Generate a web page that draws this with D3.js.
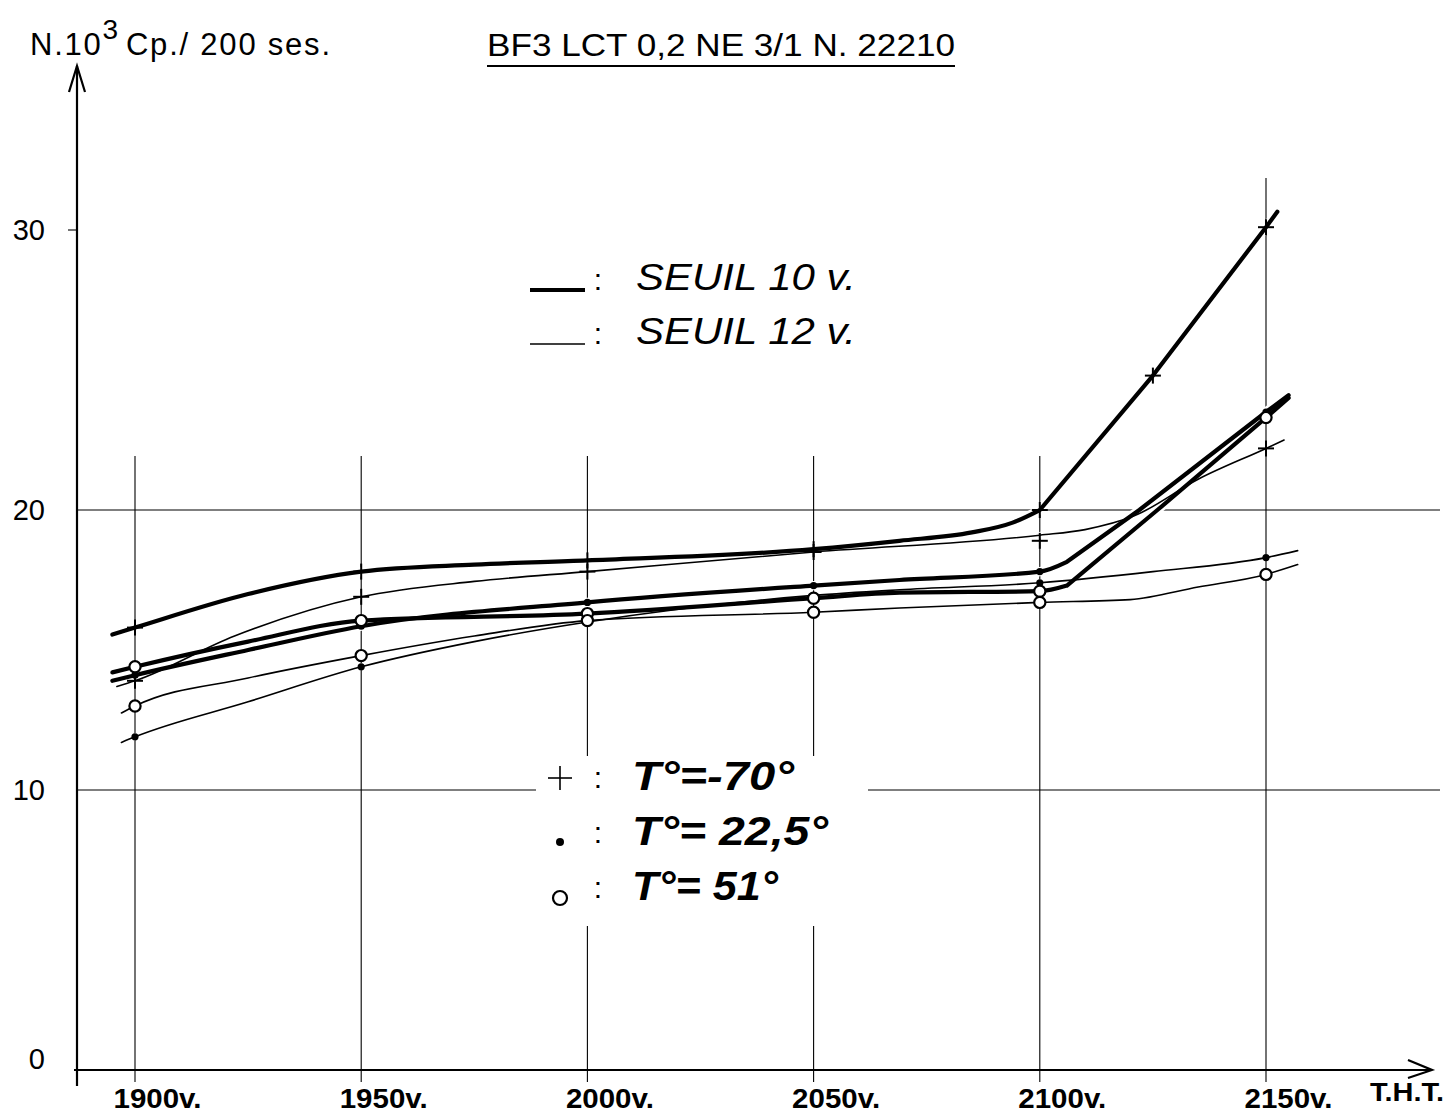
<!DOCTYPE html>
<html>
<head>
<meta charset="utf-8">
<script src="https://cdn.jsdelivr.net/npm/d3@7"></script>
<style>
  html, body { margin: 0; padding: 0; background: #fff; }
  svg { display: block; }
  text { font-family: "Liberation Sans", Arial, sans-serif; fill: #000; }
</style>
</head>
<body>
<svg id="chart" width="1452" height="1113"></svg>
<script>
// Supply voltages (T.H.T.) and count-rate scale (N x 10^3 counts / 200 s)
const volts = [1900, 1950, 2000, 2050, 2100, 2150];
const yTicks = [0, 10, 20, 30];
const gridY = [10, 20];

// Measured points: [voltage, counts x 10^3]
// T = -70°, threshold 10 V
const m70_s10_pts = [[1900, 15.8], [1950, 17.8], [2000, 18.2], [2050, 18.6], [2100, 20.0], [2125, 24.8], [2150, 30.1]];
const m70_s10_line = [[1895, 15.55], [1900, 15.8], [1925, 17.0], [1950, 17.8], [1975, 18.05], [2000, 18.2], [2050, 18.6],
  [2069, 18.9], [2085, 19.2], [2094, 19.55], [2100, 20.0], [2125, 24.8], [2150, 30.1], [2152.5, 30.65]];
// T = -70°, threshold 12 V
const m70_s12_pts = [[1900, 13.9], [1950, 16.9], [2000, 17.8], [2050, 18.5], [2100, 18.9], [2150, 22.2]];
const m70_s12_line = [[1896, 13.7], [1900, 13.9], [1922, 15.5], [1950, 16.9], [1975, 17.45], [2000, 17.8], [2050, 18.5],
  [2100, 19.1], [2110, 19.3], [2121, 19.8], [2135, 21.1], [2150, 22.2], [2154, 22.5]];
// T = 22.5°, threshold 10 V
const t22_s10_pts = [[1900, 14.1], [1950, 15.85], [2000, 16.7], [2050, 17.3], [2100, 17.8], [2150, 23.5]];
const t22_s10_line = [[1895, 13.9], [1900, 14.1], [1925, 15.0], [1950, 15.85], [2000, 16.7], [2050, 17.3], [2069, 17.5],
  [2100, 17.8], [2106, 18.15], [2122, 20.0], [2150, 23.5], [2155, 24.1]];
// T = 22.5°, threshold 12 V
const t22_s12_pts = [[1900, 11.9], [1950, 14.4], [2000, 16.0], [2050, 16.95], [2100, 17.4], [2150, 18.3]];
const t22_s12_line = [[1897, 11.7], [1900, 11.9], [1925, 13.15], [1950, 14.4], [1975, 15.3], [2000, 16.0], [2050, 16.95],
  [2069, 17.15], [2100, 17.4], [2125, 17.8], [2150, 18.3], [2157, 18.55]];
// T = 51°, threshold 10 V
const t51_s10_pts = [[1900, 14.4], [1950, 16.05], [2000, 16.3], [2050, 16.85], [2100, 17.1], [2150, 23.3]];
const t51_s10_line = [[1895, 14.2], [1900, 14.4], [1925, 15.3], [1950, 16.05], [2000, 16.3], [2050, 16.85], [2069, 17.05],
  [2100, 17.1], [2106, 17.3], [2126, 20.0], [2150, 23.3], [2155, 24.0]];
// T = 51°, threshold 12 V
const t51_s12_pts = [[1900, 13.0], [1950, 14.8], [2000, 16.05], [2050, 16.35], [2100, 16.7], [2150, 17.7]];
const t51_s12_line = [[1897, 12.75], [1900, 13.0], [1925, 14.0], [1950, 14.8], [1975, 15.5], [2000, 16.05], [2050, 16.35],
  [2069, 16.5], [2100, 16.7], [2120, 16.8], [2135, 17.25], [2150, 17.7], [2157, 18.05]];

// "kink": voltage after which the trace is ruled straight
const series = [
  { line: m70_s10_line, pts: m70_s10_pts, mark: "plus",   seuil: 10, kink: 2100 },
  { line: m70_s12_line, pts: m70_s12_pts, mark: "plus",   seuil: 12, kink: null },
  { line: t22_s10_line, pts: t22_s10_pts, mark: "dot",    seuil: 10, kink: 2106 },
  { line: t22_s12_line, pts: t22_s12_pts, mark: "dot",    seuil: 12, kink: null },
  { line: t51_s10_line, pts: t51_s10_pts, mark: "circle", seuil: 10, kink: 2106 },
  { line: t51_s12_line, pts: t51_s12_pts, mark: "circle", seuil: 12, kink: null }
];

const legendSeuil = ["SEUIL  10 v.", "SEUIL  12 v."];
const legendTemp = ["T°=-70°", "T°= 22,5°", "T°= 51°"];
const legendMarks = ["plus", "dot", "circle"];

const svg = d3.select("#chart");
const x = d3.scaleLinear().domain([1900, 2150]).range([135, 1266]);
const y = d3.scaleLinear().domain([0, 30]).range([1070, 230]);
const axisX0 = 77;

// ---- grid ----
const grid = svg.append("g").attr("stroke", "#000").attr("stroke-width", 1.1);
grid.selectAll("line.h").data(gridY).join("line")
  .attr("x1", axisX0).attr("x2", 1440)
  .attr("y1", d => y(d)).attr("y2", d => y(d));
grid.selectAll("line.v").data(volts).join("line")
  .attr("x1", d => x(d)).attr("x2", d => x(d))
  .attr("y1", d => d === 2150 ? 178 : 456)
  .attr("y2", 1082);
grid.append("line").attr("x1", 68).attr("x2", axisX0).attr("y1", y(30)).attr("y2", y(30));

// ---- curves: smooth French-curve part, then a ruled straight part ----
const smooth = d3.line().x(d => x(d[0])).y(d => y(d[1])).curve(d3.curveMonotoneX);
const ruled = d3.line().x(d => x(d[0])).y(d => y(d[1])).curve(d3.curveLinear);
function tracePath(s) {
  if (s.kink == null) return smooth(s.line);
  return smooth(s.line.filter(d => d[0] <= s.kink)) + ruled(s.line.filter(d => d[0] >= s.kink));
}
const width = s => s.seuil === 10 ? 4.2 : 1.6;

// white halo interrupting the grid where the curves pass
svg.append("g").selectAll("path").data(series).join("path")
  .attr("d", tracePath).attr("fill", "none")
  .attr("stroke", "#fff").attr("stroke-width", s => width(s) + 5)
  .attr("stroke-linecap", "round");

svg.append("g").selectAll("path").data(series).join("path")
  .attr("d", tracePath).attr("fill", "none")
  .attr("stroke", "#000").attr("stroke-width", width)
  .attr("stroke-linecap", "round").attr("stroke-linejoin", "round");

// ---- markers ----
function drawMark(g, kind, cx, cy, big) {
  if (kind === "plus") {
    const a = big ? 12 : 8;
    g.append("line").attr("x1", cx - a).attr("x2", cx + a).attr("y1", cy).attr("y2", cy)
      .attr("stroke", "#000").attr("stroke-width", big ? 1.6 : 2);
    g.append("line").attr("x1", cx).attr("x2", cx).attr("y1", cy - a).attr("y2", cy + a)
      .attr("stroke", "#000").attr("stroke-width", big ? 1.6 : 2);
  } else if (kind === "dot") {
    g.append("circle").attr("cx", cx).attr("cy", cy).attr("r", big ? 4 : 3.6).attr("fill", "#000");
  } else {
    g.append("circle").attr("cx", cx).attr("cy", cy).attr("r", big ? 7 : 5.6)
      .attr("fill", "#fff").attr("stroke", "#000").attr("stroke-width", 2.2);
  }
}
const marks = svg.append("g");
series.forEach(s => s.pts.forEach(p => drawMark(marks, s.mark, x(p[0]), y(p[1]), false)));

// ---- axes ----
const axes = svg.append("g").attr("stroke", "#000").attr("stroke-width", 2.2).attr("fill", "none");
axes.append("line").attr("x1", axisX0).attr("x2", axisX0).attr("y1", 1086).attr("y2", 66);
axes.append("path").attr("d", `M${axisX0 - 8},92 L${axisX0},66 L${axisX0 + 8},92`);
axes.append("line").attr("x1", 74).attr("x2", 1432).attr("y1", y(0)).attr("y2", y(0));
axes.append("path").attr("d", `M1408,1060 L1432,1070 L1408,1078`);

const yAxis = svg.append("g").attr("transform", `translate(${axisX0},0)`)
  .call(d3.axisLeft(y).tickValues(yTicks).tickSize(0).tickPadding(32).tickFormat(d3.format("d")));
yAxis.select(".domain").remove();
yAxis.selectAll("text").attr("font-size", 29).attr("font-family", "Liberation Sans, Arial, sans-serif")
  .attr("dy", d => d === 0 ? "-0.05em" : "0.32em");

const xAxis = svg.append("g").attr("transform", `translate(0,${y(0)})`)
  .call(d3.axisBottom(x).tickValues(volts).tickSize(0).tickFormat(d => d + "v."));
xAxis.select(".domain").remove();
xAxis.selectAll("text").attr("font-size", 28).attr("font-family", "Liberation Sans, Arial, sans-serif")
  .attr("font-weight", "bold")
  .attr("text-anchor", "start").attr("dx", -22).attr("y", 38).attr("dy", 0)
  .attr("textLength", 88).attr("lengthAdjust", "spacingAndGlyphs");

svg.append("text").attr("x", 1370).attr("y", 1101).attr("font-size", 25).attr("font-weight", "bold")
  .attr("textLength", 74).attr("lengthAdjust", "spacingAndGlyphs").text("T.H.T.");

// ---- titles ----
const yt = svg.append("text").attr("x", 30).attr("y", 55).attr("font-size", 31)
  .attr("textLength", 300).attr("lengthAdjust", "spacing");
yt.append("tspan").text("N.10");
yt.append("tspan").attr("font-size", 28).attr("dy", -16).text("3");
yt.append("tspan").attr("dy", 16).attr("dx", 6).text("Cp./ 200 ses.");

svg.append("text").attr("x", 487).attr("y", 56).attr("font-size", 31)
  .attr("textLength", 468).attr("lengthAdjust", "spacingAndGlyphs")
  .text("BF3  LCT  0,2 NE 3/1  N. 22210");
svg.append("line").attr("x1", 487).attr("x2", 955).attr("y1", 66).attr("y2", 66)
  .attr("stroke", "#000").attr("stroke-width", 2);

// ---- threshold legend ----
const lg = svg.append("g");
legendSeuil.forEach((t, i) => {
  const ly = 290 + i * 54;
  lg.append("line").attr("x1", 530).attr("x2", 585).attr("y1", ly).attr("y2", ly)
    .attr("stroke", "#000").attr("stroke-width", i === 0 ? 4.2 : 1.6);
  lg.append("text").attr("x", 598).attr("y", ly).attr("font-size", 30).attr("text-anchor", "middle").text(":");
  lg.append("text").attr("x", 636).attr("y", ly).attr("font-size", 37).attr("font-style", "italic")
    .attr("textLength", 220).attr("lengthAdjust", "spacingAndGlyphs").text(t);
});

// ---- temperature legend (blanks the grid behind it) ----
svg.append("rect").attr("x", 536).attr("y", 756).attr("width", 332).attr("height", 170).attr("fill", "#fff");
const tg = svg.append("g");
const tLen = [162, 196, 146];
const markOffset = { plus: -12, dot: -3, circle: -2 };
legendTemp.forEach((t, i) => {
  const ly = 790 + i * 55;
  drawMark(tg, legendMarks[i], 560, ly + markOffset[legendMarks[i]], true);
  tg.append("text").attr("x", 598).attr("y", ly - 2).attr("font-size", 30).attr("text-anchor", "middle").text(":");
  tg.append("text").attr("x", 632).attr("y", ly).attr("font-size", 40).attr("font-style", "italic")
    .attr("font-weight", "bold").attr("textLength", tLen[i]).attr("lengthAdjust", "spacingAndGlyphs").text(t);
});
</script>
</body>
</html>
